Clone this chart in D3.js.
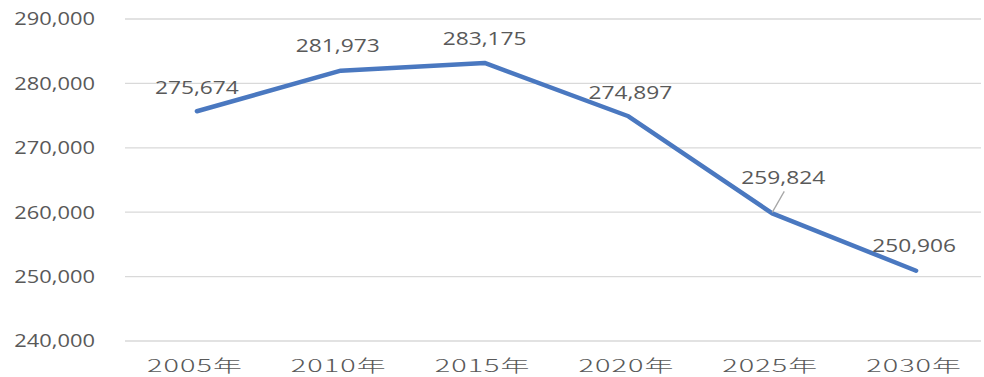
<!DOCTYPE html>
<html>
<head>
<meta charset="utf-8">
<script src="https://cdn.jsdelivr.net/npm/d3@7"></script>
<style>
  html, body { margin: 0; padding: 0; background: #fff; }
  svg { display: block; }
  text { font-family: "Open Sans", "Noto Sans", sans-serif; fill: #595959; }
  .xlab { font-family: "Noto Sans CJK JP", sans-serif; }
</style>
</head>
<body>
<svg id="chart" width="984" height="377"></svg>
<script>
// Population by year
const years = ["2005年", "2010年", "2015年", "2020年", "2025年", "2030年"];
const population = [275674, 281973, 283175, 274897, 259824, 250906];
const yTicks = [240000, 250000, 260000, 270000, 280000, 290000];

const W = 984, H = 377;
const plot = { left: 125, right: 988, top: 19, bottom: 341 };

const svg = d3.select("#chart");

const x = d3.scaleBand().domain(years).range([plot.left, plot.right]);
const y = d3.scaleLinear().domain([240000, 290000]).range([plot.bottom, plot.top]);
const fmt = d3.format(",");
const cx = d => x(d) + x.bandwidth() / 2;

// horizontal gridlines
svg.append("g")
  .selectAll("line")
  .data(yTicks)
  .join("line")
  .attr("x1", plot.left)
  .attr("x2", 981)
  .attr("y1", d => y(d))
  .attr("y2", d => y(d))
  .attr("stroke", "#d9d9d9")
  .attr("stroke-width", 1.3);

// y-axis labels (right aligned)
svg.append("g")
  .selectAll("text")
  .data(yTicks)
  .join("text")
  .attr("transform", d => `translate(95,${y(d)}) scale(1.25,1)`)
  .attr("text-anchor", "end")
  .attr("dy", "0.36em")
  .attr("font-size", 17.5)
  .text(d => fmt(d));

// x-axis labels
svg.append("g")
  .selectAll("text")
  .data(years)
  .join("text")
  .attr("class", "xlab")
  .attr("transform", d => `translate(${cx(d) - 2},366) scale(1.7,1)`)
  .attr("text-anchor", "middle")
  .attr("dy", "0.36em")
  .attr("font-size", 17)
  .attr("font-weight", 300)
  .attr("letter-spacing", 0.6)
  .attr("fill", "#6a6a6a")
  .text(d => d);

// the line
const pts = years.map((yr, i) => [cx(yr), y(population[i])]);
svg.append("path")
  .attr("d", d3.line()(pts))
  .attr("fill", "none")
  .attr("stroke", "#4a78c0")
  .attr("stroke-width", 4.5)
  .attr("stroke-linejoin", "round")
  .attr("stroke-linecap", "round");

// data labels: offset from each point [dx, dy]
const labelOffset = [[0, -24], [-3, -25], [0, -24], [2, -24], [11, -36], [-2, -25]];
const labels = svg.append("g");
years.forEach((yr, i) => {
  const [px, py] = pts[i];
  const [dx, dy] = labelOffset[i];
  labels.append("text")
    .attr("transform", `translate(${px + dx},${py + dy}) scale(1.3,1)`)
    .attr("text-anchor", "middle")
    .attr("dy", "0.36em")
    .attr("font-size", 17.5)
    .attr("fill", "#404040")
    .text(fmt(population[i]));
});

// leader line for the 2025 label
{
  const [px, py] = pts[4];
  labels.append("line")
    .attr("x1", px).attr("y1", py - 1)
    .attr("x2", px + 12).attr("y2", py - 22)
    .attr("stroke", "#a6a6a6")
    .attr("stroke-width", 1.3);
}
</script>
</body>
</html>
